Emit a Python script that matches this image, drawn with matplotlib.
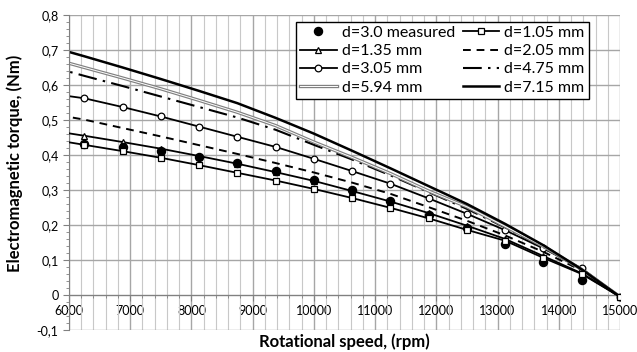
import matplotlib.pyplot as plt
import matplotlib.patheffects as pe
from matplotlib.ticker import MultipleLocator, FuncFormatter

plt.rcParams['font.family'] = ['Lato', 'DejaVu Sans']

speed = [5625, 6250, 6875, 7500, 8125, 8750, 9375, 10000, 10625,
         11250, 11875, 12500, 13125, 13750, 14375, 15000]

t_105 = [0.447, 0.429, 0.411, 0.392, 0.371, 0.349, 0.327, 0.303, 0.277,
         0.249, 0.219, 0.186, 0.155, 0.106, 0.060, -0.005]
t_135 = [0.472, 0.455, 0.437, 0.418, 0.397, 0.375, 0.351, 0.326, 0.297,
         0.267, 0.234, 0.198, 0.160, 0.111, 0.062, -0.005]
t_205 = [0.520, 0.501, 0.477, 0.453, 0.428, 0.403, 0.377, 0.350, 0.321,
         0.289, 0.251, 0.212, 0.170, 0.123, 0.070, -0.005]
t_305 = [0.577, 0.562, 0.537, 0.510, 0.481, 0.452, 0.423, 0.389, 0.354,
         0.318, 0.276, 0.232, 0.185, 0.133, 0.076, -0.005]
t_475 = [0.656, 0.626, 0.597, 0.567, 0.537, 0.507, 0.472, 0.429, 0.387,
         0.342, 0.294, 0.246, 0.193, 0.137, 0.072, -0.005]
t_594 = [0.680, 0.650, 0.620, 0.589, 0.556, 0.522, 0.484, 0.437, 0.393,
         0.347, 0.297, 0.252, 0.196, 0.139, 0.073, -0.005]
t_715 = [0.713, 0.682, 0.650, 0.617, 0.583, 0.548, 0.506, 0.461, 0.412,
         0.362, 0.311, 0.260, 0.203, 0.142, 0.073, -0.005]

meas_speed = [6250, 6875, 7500, 8125, 8750, 9375, 10000, 10625,
              11250, 11875, 12500, 13125, 13750, 14375]
meas_t = [0.431, 0.424, 0.412, 0.395, 0.378, 0.355, 0.329, 0.301,
          0.268, 0.229, 0.190, 0.146, 0.095, 0.042]

fig = plt.figure(figsize=(6.37, 3.52), dpi=100)
ax = fig.add_axes([0.1083, 0.0625, 0.865, 0.895])

h_meas, = ax.plot(meas_speed, meas_t, 'o', color='black', ms=5.8, zorder=4,
                  label='d=3.0 measured')
h105, = ax.plot(speed, t_105, '-s', color='black', lw=1.3, ms=4.3, mfc='white',
                mec='black', mew=0.9, zorder=5, label='d=1.05 mm')
h135, = ax.plot(speed, t_135, '-^', color='black', lw=1.3, ms=4.5, mfc='white',
                mec='black', mew=0.9, zorder=3, label='d=1.35 mm')
h205, = ax.plot(speed, t_205, color='black', lw=1.4, dashes=(4, 3),
                label='d=2.05 mm')
h305, = ax.plot(speed, t_305, '-o', color='black', lw=1.3, ms=4.8, mfc='white',
                mec='black', mew=0.9, label='d=3.05 mm')
h475, = ax.plot(speed, t_475, color='black', lw=1.5, dashes=(9, 3, 1.2, 3),
                label='d=4.75 mm')
h594, = ax.plot(speed, t_594, color='white', lw=0.7,
                path_effects=[pe.Stroke(linewidth=2.4, foreground='#808080'), pe.Normal()],
                label='d=5.94 mm')
h715, = ax.plot(speed, t_715, color='black', lw=1.8, label='d=7.15 mm')

ax.set_xlim(6000, 15000)
ax.set_ylim(-0.1, 0.8)
ax.xaxis.set_major_locator(MultipleLocator(1000))
ax.xaxis.set_minor_locator(MultipleLocator(200))
ax.yaxis.set_major_locator(MultipleLocator(0.1))
ax.yaxis.set_minor_locator(MultipleLocator(0.02))

ax.grid(which='major', axis='both', color='#a6a6a6', lw=1.0)
ax.grid(which='minor', axis='x', color='#c8c8c8', lw=0.8)
ax.set_axisbelow(True)

ax.spines['bottom'].set_position(('data', 0))
ax.spines['top'].set_visible(False)
ax.spines['right'].set_visible(False)
for s in ('left', 'bottom'):
    ax.spines[s].set_color('#808080')
ax.tick_params(which='both', direction='out', color='#808080', labelsize=9)
ax.tick_params(which='major', length=4)
ax.tick_params(which='minor', length=2)

ax.yaxis.set_major_formatter(FuncFormatter(
    lambda v, p: '0' if abs(v) < 1e-9 else ('%.1f' % v).replace('.', ',')))
ax.xaxis.set_major_formatter(FuncFormatter(lambda v, p: '%d' % v))

ax.set_xlabel('Rotational speed, (rpm)', fontsize=12, fontweight='bold')
ax.xaxis.set_label_coords(0.5, -0.012)
ax.set_ylabel('Electromagnetic torque, (Nm)', fontsize=12, fontweight='bold')
ax.yaxis.set_label_coords(-0.083, 0.53)

leg = ax.legend(handles=[h_meas, h135, h305, h594, h105, h205, h475, h715],
                ncol=2, loc='upper left', bbox_to_anchor=(0.412, 0.978),
                fontsize=11.5, frameon=True, fancybox=False, framealpha=1,
                edgecolor='black', handlelength=2.3, handletextpad=0.3,
                columnspacing=0.5, labelspacing=0.25, borderpad=0.25,
                borderaxespad=0)
leg.get_frame().set_linewidth(1.0)
leg.set_zorder(10)

fig.savefig('out.png', dpi=100)
